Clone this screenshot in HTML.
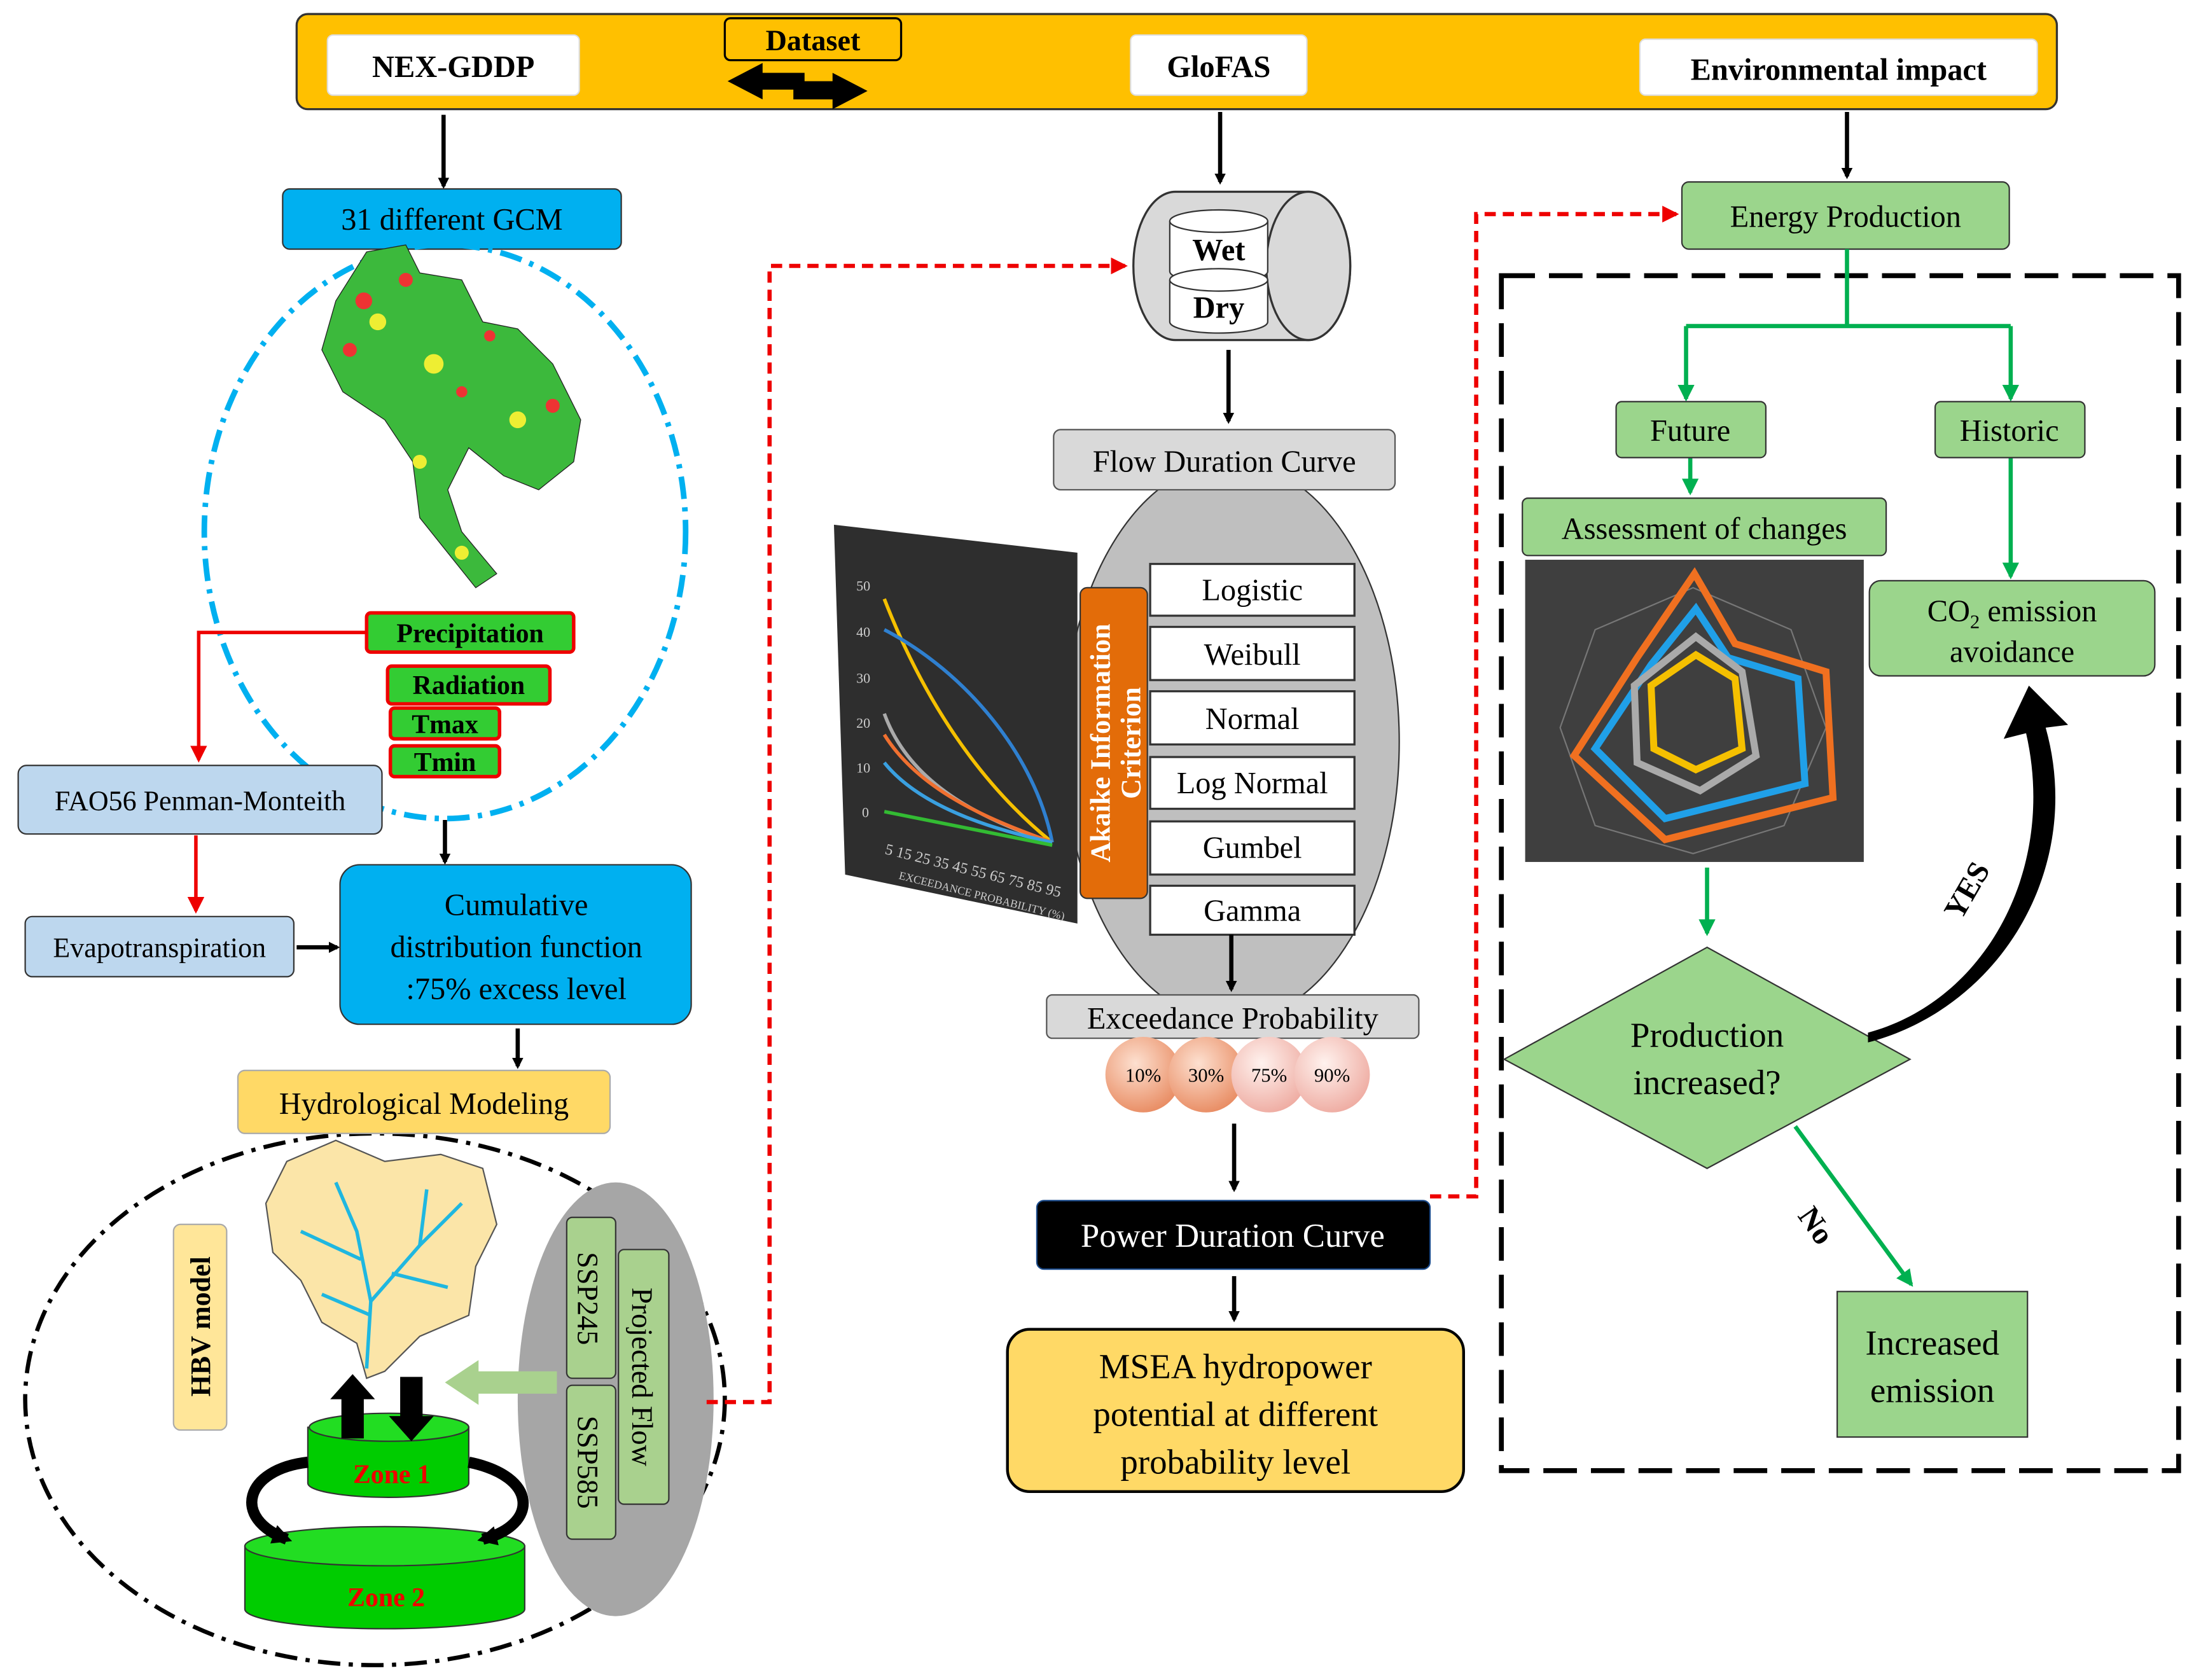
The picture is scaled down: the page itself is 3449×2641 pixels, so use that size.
<!DOCTYPE html>
<html><head><meta charset="utf-8"><style>
html,body{margin:0;padding:0;background:#fff;}
svg{display:block;}
text{font-family:"Liberation Serif",serif;}
</style></head><body>
<svg width="3449" height="2641" viewBox="0 0 1568 1200.6" xmlns="http://www.w3.org/2000/svg">
<defs>
<marker id="ab" markerWidth="8" markerHeight="8" refX="6" refY="4" orient="auto" markerUnits="userSpaceOnUse" viewBox="0 0 8 8"><path d="M0,0 L8,4 L0,8 z" fill="#000"/></marker>
<marker id="abk" markerWidth="14" markerHeight="14" refX="10" refY="7" orient="auto" markerUnits="userSpaceOnUse"><path d="M0,0 L14,7 L0,14 z" fill="#000"/></marker>
<marker id="ar" markerWidth="12" markerHeight="12" refX="10" refY="6" orient="auto" markerUnits="userSpaceOnUse"><path d="M0,0 L12,6 L0,12 z" fill="#e00"/></marker>
<marker id="ag" markerWidth="12" markerHeight="12" refX="10" refY="6" orient="auto" markerUnits="userSpaceOnUse"><path d="M0,0 L12,6 L0,12 z" fill="#00b050"/></marker>
<radialGradient id="pc" cx="40%" cy="35%" r="70%"><stop offset="0" stop-color="#fde0d0"/><stop offset="1" stop-color="#e88a60"/></radialGradient>
<radialGradient id="pc2" cx="40%" cy="35%" r="70%"><stop offset="0" stop-color="#fff2ee"/><stop offset="1" stop-color="#eeaaa0"/></radialGradient>
</defs>
<g stroke-linecap="butt">
<!-- top bar -->
<rect x="212" y="10" width="1258" height="68" rx="8" fill="#FFC000" stroke="#333" stroke-width="1.5"/>
<rect x="234" y="25" width="180" height="43" rx="4" fill="#fff" stroke="#ddd"/>
<text x="324" y="55" font-size="22" font-weight="bold" text-anchor="middle">NEX-GDDP</text>
<rect x="808" y="25" width="126" height="43" rx="4" fill="#fff" stroke="#ddd"/>
<text x="871" y="55" font-size="22" font-weight="bold" text-anchor="middle">GloFAS</text>
<rect x="1172" y="28" width="284" height="40" rx="4" fill="#fff" stroke="#ddd"/>
<text x="1314" y="57" font-size="22" font-weight="bold" text-anchor="middle">Environmental  impact</text>
<rect x="518" y="13" width="126" height="30" rx="4" fill="#FFC000" stroke="#000" stroke-width="1.5"/>
<text x="581" y="36" font-size="21" font-weight="bold" text-anchor="middle">Dataset</text>
<path d="M520,58 L545,45 L545,52 L575,52 L575,64 L545,64 L545,71 Z" fill="#000"/>
<path d="M620,65 L595,52 L595,58 L567,58 L567,71 L595,71 L595,78 Z" fill="#000"/>
<!-- down arrows from top -->
<g stroke="#000" stroke-width="3" fill="none">
<line x1="317" y1="82" x2="317" y2="133" marker-end="url(#ab)"/>
<line x1="872" y1="80" x2="872" y2="130" marker-end="url(#ab)"/>
<line x1="1320" y1="80" x2="1320" y2="126" marker-end="url(#ab)"/>
</g>
<!-- left column -->
<rect x="202" y="135" width="242" height="43" rx="5" fill="#00B0F0" stroke="#333"/>
<text x="323" y="164" font-size="22" text-anchor="middle">31 different  GCM</text>
<ellipse cx="318" cy="380" rx="172" ry="205" fill="none" stroke="#00B0F0" stroke-width="4" stroke-dasharray="16,6,3,6"/>
<!-- map -->
<path d="M262,180 L290,175 L300,195 L330,200 L345,230 L370,235 L395,260 L415,300 L410,330 L385,350 L360,340 L335,320 L320,350 L330,380 L355,410 L340,420 L320,395 L300,370 L295,330 L275,300 L245,280 L230,250 L240,215 Z" fill="#3cb93c" stroke="#222" stroke-width="0.6"/>
<g fill="#e33"><circle cx="260" cy="215" r="6"/><circle cx="290" cy="200" r="5"/><circle cx="250" cy="250" r="5"/><circle cx="395" cy="290" r="5"/><circle cx="330" cy="280" r="4"/><circle cx="350" cy="240" r="4"/></g>
<g fill="#ee3"><circle cx="270" cy="230" r="6"/><circle cx="310" cy="260" r="7"/><circle cx="370" cy="300" r="6"/><circle cx="300" cy="330" r="5"/><circle cx="330" cy="395" r="5"/></g>
<!-- variables -->
<g stroke="#e00" stroke-width="2.5" fill="#33CC33">
<rect x="262" y="438" width="148" height="28" rx="3"/>
<rect x="277" y="476" width="116" height="27" rx="3"/>
<rect x="279" y="506" width="78" height="22" rx="3"/>
<rect x="279" y="533" width="78" height="22" rx="3"/>
</g>
<g font-size="19" font-weight="bold" text-anchor="middle">
<text x="336" y="459">Precipitation</text>
<text x="335" y="496">Radiation</text>
<text x="318" y="524">Tmax</text>
<text x="318" y="551">Tmin</text>
</g>
<polyline points="262,452 142,452 142,543" fill="none" stroke="#e00" stroke-width="2.5" marker-end="url(#ar)"/>
<rect x="13" y="547" width="260" height="49" rx="6" fill="#BDD7EE" stroke="#333"/>
<text x="143" y="579" font-size="20" text-anchor="middle">FAO56 Penman-Monteith</text>
<line x1="140" y1="597" x2="140" y2="651" stroke="#e00" stroke-width="2.5" marker-end="url(#ar)"/>
<rect x="18" y="655" width="192" height="43" rx="5" fill="#BDD7EE" stroke="#333"/>
<text x="114" y="684" font-size="20" text-anchor="middle">Evapotranspiration</text>
<line x1="212" y1="677" x2="241" y2="677" stroke="#000" stroke-width="3" marker-end="url(#ab)"/>
<line x1="318" y1="586" x2="318" y2="616" stroke="#000" stroke-width="3" marker-end="url(#ab)"/>
<rect x="243" y="618" width="251" height="114" rx="14" fill="#00B0F0" stroke="#333"/>
<g font-size="22" text-anchor="middle"><text x="369" y="654">Cumulative</text><text x="369" y="684">distribution  function</text><text x="369" y="714">:75% excess  level</text></g>
<line x1="370" y1="735" x2="370" y2="762" stroke="#000" stroke-width="3" marker-end="url(#ab)"/>
<ellipse cx="268" cy="1000" rx="250" ry="190" fill="none" stroke="#000" stroke-width="3" stroke-dasharray="16,6,3,6"/>
<rect x="170" y="765" width="266" height="45" rx="5" fill="#FFD966" stroke="#aaa"/>
<text x="303" y="796" font-size="22" text-anchor="middle">Hydrological  Modeling</text>
<!-- catchment -->
<path d="M205,830 L240,815 L275,830 L315,825 L345,835 L355,875 L340,905 L335,940 L300,955 L275,980 L262,985 L255,960 L230,945 L215,915 L195,895 L190,860 Z" fill="#FBE5A8" stroke="#555" stroke-width="1"/>
<g stroke="#1fb7e0" stroke-width="2.5" fill="none"><path d="M262,978 L265,930 L255,880 L240,845"/><path d="M265,930 L300,890 L330,860"/><path d="M300,890 L305,850"/><path d="M258,900 L215,880"/><path d="M265,940 L230,925"/><path d="M280,910 L320,920"/></g>
<rect x="124" y="875" width="38" height="147" rx="5" fill="#FFE699" stroke="#aaa"/>
<text transform="translate(150,948) rotate(-90)" font-size="20" font-weight="bold" text-anchor="middle">HBV model</text>
<ellipse cx="440" cy="1000" rx="70" ry="155" fill="#A6A6A6"/>
<rect x="405" y="870" width="35" height="115" rx="4" fill="#A9D18E" stroke="#333"/>
<text transform="translate(413,928) rotate(90)" font-size="21" text-anchor="middle">SSP245</text>
<rect x="405" y="990" width="35" height="110" rx="4" fill="#A9D18E" stroke="#333"/>
<text transform="translate(413,1045) rotate(90)" font-size="21" text-anchor="middle">SSP585</text>
<rect x="442" y="893" width="36" height="182" rx="4" fill="#A9D18E" stroke="#333"/>
<text transform="translate(452,984) rotate(90)" font-size="21" text-anchor="middle">Projected  Flow</text>
<path d="M398,980 L342,980 L342,972 L318,988 L342,1004 L342,996 L398,996 Z" fill="#A9D18E"/>
<!-- zones -->
<path d="M175,1105 L175,1150 A100,14 0 0 0 375,1150 L375,1105 Z" fill="#00CC00" stroke="#333"/>
<ellipse cx="275" cy="1105" rx="100" ry="14" fill="#22dd22" stroke="#333"/>
<text x="276" y="1148" font-size="19" font-weight="bold" fill="#e00" text-anchor="middle">Zone 2</text>
<path d="M220,1020 L220,1060 A57,10 0 0 0 335,1060 L335,1020 Z" fill="#00CC00" stroke="#333"/>
<ellipse cx="278" cy="1020" rx="57" ry="10" fill="#22dd22" stroke="#333"/>
<text x="280" y="1060" font-size="19" font-weight="bold" fill="#e00" text-anchor="middle">Zone 1</text>
<path d="M244,1028 L244,1000 L236,1000 L252,982 L268,1000 L260,1000 L260,1028 Z" fill="#000"/>
<path d="M286,984 L286,1012 L278,1012 L294,1030 L310,1012 L302,1012 L302,984 Z" fill="#000"/>
<path d="M220,1045 C175,1050 165,1085 205,1100" fill="none" stroke="#000" stroke-width="8" marker-end="url(#abk)"/>
<path d="M335,1045 C385,1055 385,1090 345,1100" fill="none" stroke="#000" stroke-width="8" marker-end="url(#abk)"/>
<!-- red dashed 1 -->
<polyline points="505,1002 550,1002 550,190 804,190" fill="none" stroke="#e00" stroke-width="3" stroke-dasharray="8,5" marker-end="url(#ar)"/>
<!-- middle -->
<path d="M840,137 L935,137 A30,53 0 0 1 935,243 L840,243 A30,53 0 0 1 840,137 Z" fill="#D9D9D9" stroke="#333" stroke-width="1.5"/>
<ellipse cx="935" cy="190" rx="30" ry="53" fill="#D9D9D9" stroke="#333" stroke-width="1.5"/>
<path d="M836,158 L836,194 A35,8 0 0 0 906,194 L906,158" fill="#fff" stroke="#333"/>
<ellipse cx="871" cy="158" rx="35" ry="8" fill="#fff" stroke="#333"/>
<path d="M836,200 L836,230 A35,8 0 0 0 906,230 L906,200" fill="#fff" stroke="#333"/>
<ellipse cx="871" cy="200" rx="35" ry="8" fill="#fff" stroke="#333"/>
<text x="871" y="186" font-size="22" font-weight="bold" text-anchor="middle">Wet</text>
<text x="871" y="227" font-size="22" font-weight="bold" text-anchor="middle">Dry</text>
<line x1="878" y1="250" x2="878" y2="301" stroke="#000" stroke-width="3" marker-end="url(#ab)"/>
<ellipse cx="880" cy="530" rx="120" ry="200" fill="#BFBFBF" stroke="#333"/>
<rect x="753" y="307" width="244" height="43" rx="5" fill="#D9D9D9" stroke="#555"/>
<text x="875" y="337" font-size="22" text-anchor="middle">Flow Duration Curve</text>
<!-- chart -->
<path d="M596,375 L770,395 L770,660 L604,625 Z" fill="#2e2e2e"/>
<g font-size="10" fill="#ccc"><text x="612" y="422">50</text><text x="612" y="455">40</text><text x="612" y="488">30</text><text x="612" y="520">20</text><text x="612" y="552">10</text><text x="616" y="584">0</text>
<text transform="translate(632,610) rotate(14)" font-size="11">5 15 25 35 45 55 65 75 85 95</text>
<text transform="translate(642,628) rotate(14)" font-size="8">EXCEEDANCE PROBABILITY (%)</text></g>
<g fill="none" stroke-width="2.5"><path d="M632,428 C660,500 700,560 752,602" stroke="#f5c000"/><path d="M632,450 C690,480 740,540 752,602" stroke="#2f80d0"/><path d="M632,510 C650,560 700,585 752,602" stroke="#aaa"/><path d="M632,525 C660,570 720,590 752,602" stroke="#f07030"/><path d="M632,545 C660,580 720,595 752,602" stroke="#3aa0e0"/><path d="M632,580 L752,604" stroke="#33bb33"/></g>
<rect x="772" y="420" width="48" height="222" rx="5" fill="#E36C09" stroke="#333"/>
<text transform="translate(793,531) rotate(-90)" font-size="20" font-weight="bold" fill="#fff" text-anchor="middle">Akaike  Information</text>
<text transform="translate(815,531) rotate(-90)" font-size="20" font-weight="bold" fill="#fff" text-anchor="middle">Criterion</text>
<g fill="#fff" stroke="#333" stroke-width="1.5">
<rect x="822" y="403" width="146" height="37"/><rect x="822" y="448" width="146" height="38"/><rect x="822" y="494" width="146" height="38"/><rect x="822" y="541" width="146" height="37"/><rect x="822" y="587" width="146" height="38"/><rect x="822" y="633" width="146" height="35"/>
</g>
<g font-size="22" text-anchor="middle"><text x="895" y="429">Logistic</text><text x="895" y="475">Weibull</text><text x="895" y="521">Normal</text><text x="895" y="567">Log Normal</text><text x="895" y="613">Gumbel</text><text x="895" y="658">Gamma</text></g>
<line x1="880" y1="668" x2="880" y2="707" stroke="#000" stroke-width="3" marker-end="url(#ab)"/>
<rect x="748" y="711" width="266" height="31" rx="4" fill="#D9D9D9" stroke="#555"/>
<text x="881" y="735" font-size="22" text-anchor="middle">Exceedance  Probability</text>
<circle cx="817" cy="768" r="27" fill="url(#pc)"/><circle cx="862" cy="768" r="27" fill="url(#pc)"/><circle cx="907" cy="768" r="27" fill="url(#pc2)"/><circle cx="952" cy="768" r="27" fill="url(#pc2)"/>
<g font-size="14" text-anchor="middle"><text x="817" y="773">10%</text><text x="862" y="773">30%</text><text x="907" y="773">75%</text><text x="952" y="773">90%</text></g>
<line x1="882" y1="803" x2="882" y2="850" stroke="#000" stroke-width="3" marker-end="url(#ab)"/>
<rect x="741" y="858" width="281" height="49" rx="5" fill="#000" stroke="#1a4a8a"/>
<text x="881" y="891" font-size="24" fill="#fff" text-anchor="middle">Power Duration Curve</text>
<line x1="882" y1="912" x2="882" y2="943" stroke="#000" stroke-width="3" marker-end="url(#ab)"/>
<rect x="720" y="950" width="326" height="116" rx="16" fill="#FFD966" stroke="#000" stroke-width="2"/>
<g font-size="25" text-anchor="middle"><text x="883" y="985">MSEA hydropower</text><text x="883" y="1019">potential at different</text><text x="883" y="1053">probability level</text></g>
<polyline points="1022,855 1055,855 1055,153 1198,153" fill="none" stroke="#e00" stroke-width="3" stroke-dasharray="8,5" marker-end="url(#ar)"/>
<!-- right -->
<rect x="1073" y="197" width="484" height="854" fill="none" stroke="#000" stroke-width="3.5" stroke-dasharray="24,10"/>
<rect x="1202" y="130" width="234" height="48" rx="5" fill="#9BD58C" stroke="#333"/>
<text x="1319" y="162" font-size="22" text-anchor="middle">Energy Production</text>
<g stroke="#00b050" stroke-width="3" fill="none">
<line x1="1320" y1="178" x2="1320" y2="233"/>
<line x1="1205" y1="233" x2="1437" y2="233"/>
<line x1="1205" y1="233" x2="1205" y2="285" marker-end="url(#ag)"/>
<line x1="1437" y1="233" x2="1437" y2="285" marker-end="url(#ag)"/>
<line x1="1208" y1="327" x2="1208" y2="352" marker-end="url(#ag)"/>
<line x1="1437" y1="327" x2="1437" y2="412" marker-end="url(#ag)"/>
<line x1="1220" y1="620" x2="1220" y2="667" marker-end="url(#ag)"/>
<line x1="1283" y1="805" x2="1366" y2="918" marker-end="url(#ag)"/>
</g>
<rect x="1155" y="287" width="107" height="40" rx="4" fill="#9BD58C" stroke="#333"/>
<text x="1208" y="315" font-size="22" text-anchor="middle">Future</text>
<rect x="1383" y="287" width="107" height="40" rx="4" fill="#9BD58C" stroke="#333"/>
<text x="1436" y="315" font-size="22" text-anchor="middle">Historic</text>
<rect x="1088" y="356" width="260" height="41" rx="4" fill="#9BD58C" stroke="#333"/>
<text x="1218" y="385" font-size="22" text-anchor="middle">Assessment  of changes</text>
<rect x="1090" y="400" width="242" height="216" fill="#3f3f3f"/>
<polygon points="1210,420 1280,450 1305,520 1275,590 1210,610 1140,590 1115,520 1140,450" fill="none" stroke="#777"/>
<g fill="none" stroke-width="5">
<polygon points="1211,410 1240,460 1305,480 1310,570 1190,600 1125,540 1170,470" stroke="#f07020"/>
<polygon points="1212,435 1235,470 1285,485 1290,560 1190,585 1140,535 1180,475" stroke="#20a0e8"/>
<polygon points="1212,455 1245,480 1255,540 1215,565 1170,545 1168,490" stroke="#aaa"/>
<polygon points="1212,468 1240,485 1245,535 1212,550 1182,535 1180,490" stroke="#f5c000"/>
</g>
<rect x="1336" y="415" width="204" height="68" rx="8" fill="#9BD58C" stroke="#333"/>
<text x="1438" y="444" font-size="22" text-anchor="middle">CO<tspan font-size="14" dy="5">2</tspan><tspan dy="-5"> emission</tspan></text>
<text x="1438" y="473" font-size="22" text-anchor="middle">avoidance</text>
<polygon points="1220,677 1365,757 1220,835 1075,757" fill="#9BD58C" stroke="#333"/>
<text x="1220" y="748" font-size="25" text-anchor="middle">Production</text>
<text x="1220" y="782" font-size="25" text-anchor="middle">increased?</text>
<path d="M1335,745 C1430,720 1490,620 1462,520 L1478,518 L1450,490 L1432,528 L1448,524 C1470,620 1420,715 1335,738 Z" fill="#000"/>
<text transform="translate(1412,640) rotate(-60)" font-size="22" font-weight="bold" text-anchor="middle">YES</text>
<text transform="translate(1292,880) rotate(55)" font-size="22" font-weight="bold" text-anchor="middle">No</text>
<rect x="1313" y="923" width="136" height="104" fill="#9BD58C" stroke="#333"/>
<text x="1381" y="968" font-size="25" text-anchor="middle">Increased</text>
<text x="1381" y="1002" font-size="25" text-anchor="middle">emission</text>
</g>
</svg>
</body></html>
